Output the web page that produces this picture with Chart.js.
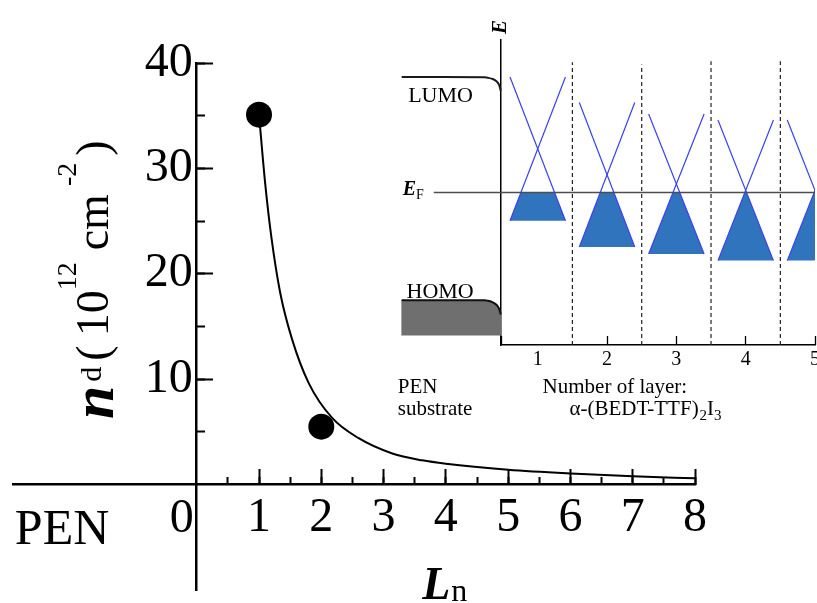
<!DOCTYPE html>
<html>
<head>
<meta charset="utf-8">
<title>n_d vs L_n</title>
<script src="https://cdn.jsdelivr.net/npm/chart.js@4/dist/chart.umd.min.js"></script>
<style>
  html, body { margin: 0; padding: 0; background: #fff; overflow: hidden; }
  #main { position: absolute; left: 0; top: 0; }
  #inset { position: absolute; left: 380px; top: 0; }
</style>
</head>
<body>
<canvas id="main" width="817" height="603"></canvas>
<canvas id="inset" width="443" height="440"></canvas>
<script>
var SERIF = '"Liberation Serif", "Times New Roman", serif';

// main panel: carrier density against number of layers
var layerCount = [1, 2];
var carrierDensity = [35.1, 5.5];
// fitted curve
var fitLayer = [1, 1.1, 1.2, 1.34, 1.53, 1.8, 2.17, 2.6, 3.14, 3.62, 4, 5, 6, 7, 8];
var fitDensity = [35.1, 28.5, 23.4, 18.2, 13.8, 9.6, 6.35, 4.4, 2.95, 2.3, 1.98, 1.42, 1.06, 0.79, 0.6];
var xTickLabels = ['1', '2', '3', '4', '5', '6', '7', '8'];
var yTickLabels = ['10', '20', '30', '40'];
var xMin = -2.95, xMax = 8, yMin = -10, yMax = 40;

// inset: band picture, energy in arbitrary units (E_F = 0)
var insetLayers = [1, 2, 3, 4, 5];
var coneTop = [11.36, 8.85, 7.72, 7.13, 7.13];
var coneBottom = [-2.77, -5.36, -6.05, -6.7, -6.7];
var coneHalfWidth = [0.4, 0.4, 0.4, 0.4, 0.4];
var fermiLevel = 0;
var fermiStart = -0.5;
var layerEdges = [1.5, 2.5, 3.5, 4.5];
var layerEdgeTop = [12.8, 12.6, 12.9, 12.9];
var lumoX = [0.466, 0.444, 0.408, 0.351, 0.278, 0.235, -0.963];
var lumoE = [10.01, 10.57, 10.92, 11.16, 11.29, 11.33, 11.36];
var homoX = [0.466, 0.444, 0.408, 0.351, 0.278, 0.235, -0.963];
var homoE = [-11.99, -11.46, -11.07, -10.8, -10.65, -10.61, -10.6];
var homoFloor = -14.04;
var insetTickLabels = ['1', '2', '3', '4', '5'];
var insetXMin = 0.47, insetXMax = 5, insetEMin = -15, insetEMax = 15;

function pts(xs, ys) {
  return xs.map(function(x, i) { return {x: x, y: ys[i]}; });
}

// draws a run of text pieces [text, font, dy, gapAfter]
function drawPieces(ctx, pieces, x, y) {
  pieces.forEach(function(p) {
    ctx.font = p[1];
    ctx.fillText(p[0], x, y + p[2]);
    x += ctx.measureText(p[0]).width + (p[3] || 0);
  });
}

function showIf(test) {
  return function(c) {
    return c.tick && test(c.tick.value) ? '#000' : 'rgba(0,0,0,0)';
  };
}
function positive(v) { return v > 0; }

// scale that only draws tick marks (inward, hence negative length)
function tickScale(axis, min, max, step, len, width, where, test) {
  return {
    type: 'linear', axis: axis, min: min, max: max, position: where, offset: false,
    ticks: { stepSize: step, display: false },
    grid: { offset: false, drawOnChartArea: false, tickLength: -len, tickWidth: width, tickColor: showIf(test) },
    border: { display: false }
  };
}

var mainText = {
  id: 'mainText',
  afterDraw: function(chart) {
    var ctx = chart.ctx, xs = chart.scales.x, ys = chart.scales.y;
    var x0 = xs.getPixelForValue(0), y0 = ys.getPixelForValue(0);
    ctx.save();
    ctx.fillStyle = '#000';
    ctx.textBaseline = 'alphabetic';
    ctx.textAlign = 'right';
    ctx.font = '48px ' + SERIF;
    ctx.fillText('0', x0 - 3, y0 + 47);
    ctx.textAlign = 'left';
    ctx.font = '50px ' + SERIF;
    ctx.fillText('PEN', xs.getPixelForValue(-2.92), y0 + 59);

    drawPieces(ctx, [
      ['L', 'bold italic 46px ' + SERIF, 0, 1],
      ['n', '32px ' + SERIF, 2]
    ], xs.getPixelForValue(3.62), 599);

    ctx.translate(108, 419);
    ctx.rotate(-Math.PI / 2);
    drawPieces(ctx, [
      ['n', 'bold italic 60px ' + SERIF, 5, 4],
      ['d', '30px ' + SERIF, -7, 6],
      ['(', '46px ' + SERIF, 0, 9],
      ['10', '46px ' + SERIF, 0, 0],
      ['12', '28px ' + SERIF, -32, 12],
      ['cm', '46px ' + SERIF, 0, 8],
      ['-2', '28px ' + SERIF, -32, 7],
      [')', '46px ' + SERIF, 0, 0]
    ], 0, 0);
    ctx.restore();
  }
};

new Chart(document.getElementById('main'), {
  type: 'scatter',
  data: {
    datasets: [
      {
        data: pts(layerCount, carrierDensity),
        pointRadius: 13, pointHoverRadius: 13,
        pointBackgroundColor: '#000', pointBorderWidth: 0
      },
      {
        data: pts(fitLayer, fitDensity),
        showLine: true, pointRadius: 0, pointHoverRadius: 0,
        borderColor: '#000', borderWidth: 2,
        cubicInterpolationMode: 'monotone'
      }
    ]
  },
  options: {
    responsive: false,
    animation: false,
    events: [],
    layout: { padding: { left: 3, right: 122, top: 63, bottom: 8 } },
    plugins: { legend: { display: false }, tooltip: { enabled: false } },
    scales: {
      x: {
        type: 'linear', axis: 'x', min: xMin, max: xMax, position: { y: 0 },
        ticks: {
          stepSize: 1, padding: 5, color: '#000', autoSkip: false, maxRotation: 0,
          font: { family: SERIF, size: 48 },
          callback: function(v) { return xTickLabels.indexOf(String(v)) >= 0 ? String(v) : ''; }
        },
        grid: { drawOnChartArea: false, drawTicks: false },
        border: { display: true, color: '#000', width: 2.5 }
      },
      xMajor: tickScale('x', xMin, xMax, 1, 16, 2, { y: 0 }, positive),
      xMinor: tickScale('x', xMin, xMax, 0.5, 8, 2, { y: 0 }, positive),
      y: {
        type: 'linear', axis: 'y', min: yMin, max: yMax, position: { x: 0 },
        ticks: {
          stepSize: 10, padding: 0, color: '#000', autoSkip: false,
          font: { family: SERIF, size: 48, lineHeight: 0.4 },
          callback: function(v) { return yTickLabels.indexOf(String(v)) >= 0 ? String(v) + '\u200A' : ''; }
        },
        grid: { drawOnChartArea: false, drawTicks: false },
        border: { display: true, color: '#000', width: 2.5 }
      },
      yMajor: tickScale('y', yMin, yMax, 10, 16, 2, { x: 0 }, positive),
      yMinor: tickScale('y', yMin, yMax, 5, 8, 2, { x: 0 }, positive)
    }
  },
  plugins: [mainText]
});

// ---- inset ----
var CONE_LINE = '#3b40ee';
var CONE_FILL = '#2f74bd';

function lineSet(data, extra) {
  var ds = {
    data: data, showLine: true, pointRadius: 0, pointHoverRadius: 0,
    borderColor: '#000', borderWidth: 1.5, fill: false
  };
  for (var k in extra) ds[k] = extra[k];
  return ds;
}

var insetSets = [];
insetSets.push(lineSet(pts([insetXMax, fermiStart], [fermiLevel, fermiLevel]),
  { borderColor: '#4d4d4d', borderWidth: 1.6, clip: false }));
insetSets.push(lineSet(pts(lumoX, lumoE),
  { borderColor: '#1a1a1a', borderWidth: 2, tension: 0.3, clip: false }));
insetSets.push(lineSet(pts(homoX, homoE),
  { borderColor: '#111', borderWidth: 2, tension: 0.3, clip: false }));
// grey HOMO block of the substrate
insetSets.push({
  type: 'bar',
  data: [{ x: (homoX[0] + homoX[homoX.length - 1]) / 2, y: [homoFloor, homoE[homoE.length - 1]] }],
  barThickness: 99, backgroundColor: '#6f6f6f', borderWidth: 0, borderSkipped: false,
  borderRadius: { topLeft: 0, topRight: 15, bottomLeft: 0, bottomRight: 0 },
  clip: false
});
layerEdges.forEach(function(b, i) {
  insetSets.push(lineSet(pts([b, b], [insetEMin, layerEdgeTop[i]]),
    { borderColor: '#222', borderWidth: 1.2, borderDash: [4, 3] }));
});
insetLayers.forEach(function(c, i) {
  var w = coneHalfWidth[i];
  insetSets.push(lineSet(pts([c - w, c + w], [coneTop[i], coneBottom[i]]),
    { borderColor: CONE_LINE, borderWidth: 1.2 }));
  insetSets.push(lineSet(pts([c + w, c - w], [coneTop[i], coneBottom[i]]),
    { borderColor: CONE_LINE, borderWidth: 1.2 }));
});
// filled states below E_F inside each cone
insetLayers.forEach(function(c, i) {
  var w = coneHalfWidth[i], t = coneTop[i], b = coneBottom[i];
  var hw = w * (2 * (t - fermiLevel) / (t - b) - 1);
  insetSets.push(lineSet(
    pts([c - hw, c + hw, c + w, c - w], [fermiLevel, fermiLevel, b, b]),
    { borderWidth: 0, borderColor: 'rgba(0,0,0,0)', fill: 'shape', backgroundColor: CONE_FILL }));
});

var insetText = {
  id: 'insetText',
  afterDraw: function(chart) {
    var ctx = chart.ctx, xs = chart.scales.x, ys = chart.scales.y;
    function X(v) { return xs.getPixelForValue(v); }
    function Y(v) { return ys.getPixelForValue(v); }
    ctx.save();
    ctx.fillStyle = '#000';
    ctx.textAlign = 'left';
    ctx.textBaseline = 'alphabetic';
    ctx.font = '22px ' + SERIF;
    ctx.fillText('LUMO', X(-0.869), Y(8.9));
    ctx.fillText('HOMO', X(-0.893), Y(-10.34));
    ctx.font = '21px ' + SERIF;
    ctx.fillText('PEN', X(-1.02), Y(-19.72));
    ctx.fillText('substrate', X(-1.02), Y(-21.9));
    ctx.fillText('Number of layer:', X(1.07), Y(-19.72));
    drawPieces(ctx, [
      ['\u03B1-(BEDT-TTF)', '21px ' + SERIF, 0, 1],
      ['2', '15px ' + SERIF, 5, 0],
      ['I', '21px ' + SERIF, 0, 0],
      ['3', '15px ' + SERIF, 5, 0]
    ], X(1.457), Y(-21.9));
    drawPieces(ctx, [
      ['E', 'bold italic 20px ' + SERIF, 0, 0],
      ['F', '14px ' + SERIF, 4, 0]
    ], X(-0.948), Y(-0.25));
    ctx.translate(X(0.538), Y(15.59));
    ctx.rotate(-Math.PI / 2);
    ctx.font = 'bold italic 21px ' + SERIF;
    ctx.fillText('E', 0, 0);
    ctx.restore();
  }
};

new Chart(document.getElementById('inset'), {
  type: 'scatter',
  data: { datasets: insetSets },
  options: {
    responsive: false,
    animation: false,
    events: [],
    layout: { padding: { left: 121, right: 8, top: 40, bottom: 95 } },
    plugins: { legend: { display: false }, tooltip: { enabled: false } },
    scales: {
      x: {
        type: 'linear', axis: 'x', min: insetXMin, max: insetXMax, position: { y: insetEMin },
        offset: false,
        ticks: {
          stepSize: 1, includeBounds: false, padding: 3, color: '#000',
          autoSkip: false, maxRotation: 0, font: { family: SERIF, size: 20 },
          callback: function(v) { return insetTickLabels.indexOf(String(v)) >= 0 ? String(v) : ''; }
        },
        grid: { offset: false, drawOnChartArea: false, drawTicks: false },
        border: { display: true, color: '#000', width: 1.5 }
      },
      xTicks: tickScale('x', insetXMin, insetXMax, 1, 9, 1.3, { y: insetEMin }, positive),
      y: {
        type: 'linear', axis: 'y', min: insetEMin, max: insetEMax, position: { x: insetXMin },
        ticks: { display: false },
        grid: { display: false },
        border: { display: true, color: '#000', width: 1.5 }
      }
    }
  },
  plugins: [insetText]
});
</script>
</body>
</html>
